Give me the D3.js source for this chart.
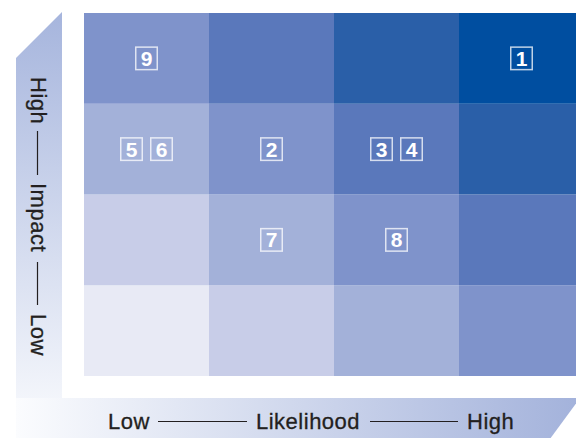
<!DOCTYPE html>
<html>
<head>
<meta charset="utf-8">
<script src="https://cdn.jsdelivr.net/npm/d3@7"></script>
<style>
  html, body { margin: 0; padding: 0; background: #fff; }
  svg { display: block; }
</style>
</head>
<body>
<svg id="drawing_region"></svg>
<script>
// columns = likelihood (low -> high), rows = impact (low -> high)
const likelihoodLevels = [0, 1, 2, 3];
const impactLevels = [0, 1, 2, 3];
// cell shade depends on likelihood + impact (0..6)
const levelColors = ['#e8eaf5', '#c8cde8', '#a3b1d9', '#7f93cb', '#5a78bb', '#2a5fa8', '#004ea0'];

// numbered risks placed in the grid
const riskIds        = [1, 2, 3, 4, 5, 6, 7, 8, 9];
const riskLikelihood = [3, 1, 2, 2, 0, 0, 1, 2, 0];
const riskImpact     = [3, 2, 2, 2, 2, 2, 1, 1, 3];

const xAxisTexts = ['Low', 'Likelihood', 'High'];
const yAxisTexts = ['High', 'Impact', 'Low'];

const W = 576, H = 438;
const grid = {left: 84, top: 13, right: 584, bottom: 376};

const svg = d3.select('#drawing_region')
    .attr('width', W)
    .attr('height', H);

const xscale = d3.scaleBand()
    .domain(likelihoodLevels)
    .range([grid.left, grid.right]);

const yscale = d3.scaleBand()
    .domain(impactLevels.slice().reverse())
    .range([grid.top, grid.bottom]);

// ---- gradients for the axis bands
const defs = svg.append('defs');
const vgrad = defs.append('linearGradient')
    .attr('id', 'vgrad')
    .attr('gradientUnits', 'userSpaceOnUse')
    .attr('x1', 0).attr('y1', 13).attr('x2', 0).attr('y2', 440);
vgrad.append('stop').attr('offset', 0).attr('stop-color', '#a6b5dd');
vgrad.append('stop').attr('offset', 1).attr('stop-color', '#fbfcfe');

const hgrad = defs.append('linearGradient')
    .attr('id', 'hgrad')
    .attr('gradientUnits', 'userSpaceOnUse')
    .attr('x1', 16).attr('y1', 0).attr('x2', 580).attr('y2', 0);
hgrad.append('stop').attr('offset', 0).attr('stop-color', '#fbfcfe');
hgrad.append('stop').attr('offset', 1).attr('stop-color', '#a3b2db');

// left band with cut top
svg.append('path')
    .attr('d', 'M16,58 L62,12 L62,398 L16,398 Z')
    .attr('fill', 'url(#vgrad)');

// bottom band with cut right end
svg.append('path')
    .attr('d', 'M16,398 L580,398 L547,443 L16,443 Z')
    .attr('fill', 'url(#hgrad)');

// ---- cells
const cells = [];
likelihoodLevels.forEach(l => impactLevels.forEach(i => cells.push({l: l, i: i})));

svg.append('g')
    .selectAll('rect')
    .data(cells)
    .join('rect')
    .attr('x', d => xscale(d.l))
    .attr('y', d => yscale(d.i))
    .attr('width', xscale.bandwidth())
    .attr('height', yscale.bandwidth())
    .attr('fill', d => levelColors[d.l + d.i]);

// ---- risk markers
const risks = riskIds.map((id, k) => ({id: id, l: riskLikelihood[k], i: riskImpact[k]}));
const groups = d3.groups(risks, d => d.l + '-' + d.i);

const boxW = 23, boxH = 24, gap = 7;
const markers = [];
groups.forEach(([key, items]) => {
    const total = items.length * boxW + (items.length - 1) * gap;
    items.forEach((d, k) => {
        const cx = xscale(d.l) + xscale.bandwidth() / 2;
        const cy = yscale(d.i) + yscale.bandwidth() / 2;
        markers.push({id: d.id, x: cx - total / 2 + k * (boxW + gap), y: cy - boxH / 2});
    });
});

const mk = svg.append('g')
    .selectAll('g')
    .data(markers)
    .join('g')
    .attr('transform', d => `translate(${d.x}, ${d.y})`);

mk.append('rect')
    .attr('x', 0.75).attr('y', 0.75)
    .attr('width', boxW - 1.5)
    .attr('height', boxH - 1.5)
    .attr('fill', 'none')
    .attr('stroke', 'rgba(255,255,255,0.75)')
    .attr('stroke-width', 1.5);

mk.append('text')
    .attr('x', boxW / 2)
    .attr('y', boxH / 2 + 7.5)
    .attr('text-anchor', 'middle')
    .attr('font-family', '"Liberation Sans", Arial, sans-serif')
    .attr('font-weight', 'bold')
    .attr('font-size', '21px')
    .attr('fill', '#fff')
    .text(d => d.id);

// ---- axis titles
const font = '"Liberation Sans", Arial, sans-serif';
const ink = '#231f20';

// bottom: Low --- Likelihood --- High
const xt = svg.append('g');
const xPos = [108, 256, 467];
xAxisTexts.forEach((t, k) => {
    xt.append('text')
        .attr('x', xPos[k])
        .attr('y', 429)
        .attr('font-family', font)
        .attr('font-size', '22px')
        .attr('letter-spacing', '0.5px')
        .attr('fill', ink)
        .attr('stroke', ink)
        .attr('stroke-width', 0.3)
        .text(t);
});
[[158, 247], [370, 458]].forEach(s => {
    xt.append('line')
        .attr('x1', s[0]).attr('x2', s[1])
        .attr('y1', 421.5).attr('y2', 421.5)
        .attr('stroke', ink)
        .attr('stroke-width', 1.2);
});

// left: High --- Impact --- Low (reads top to bottom)
const yt = svg.append('g');
const yPos = [77, 183, 314];
yAxisTexts.forEach((t, k) => {
    yt.append('text')
        .attr('transform', `translate(31, ${yPos[k]}) rotate(90)`)
        .attr('font-family', font)
        .attr('font-size', '22px')
        .attr('letter-spacing', '0.5px')
        .attr('fill', ink)
        .attr('stroke', ink)
        .attr('stroke-width', 0.3)
        .text(t);
});
[[131, 175], [262, 305]].forEach(s => {
    yt.append('line')
        .attr('x1', 37.5).attr('x2', 37.5)
        .attr('y1', s[0]).attr('y2', s[1])
        .attr('stroke', ink)
        .attr('stroke-width', 1.2);
});
</script>
</body>
</html>
